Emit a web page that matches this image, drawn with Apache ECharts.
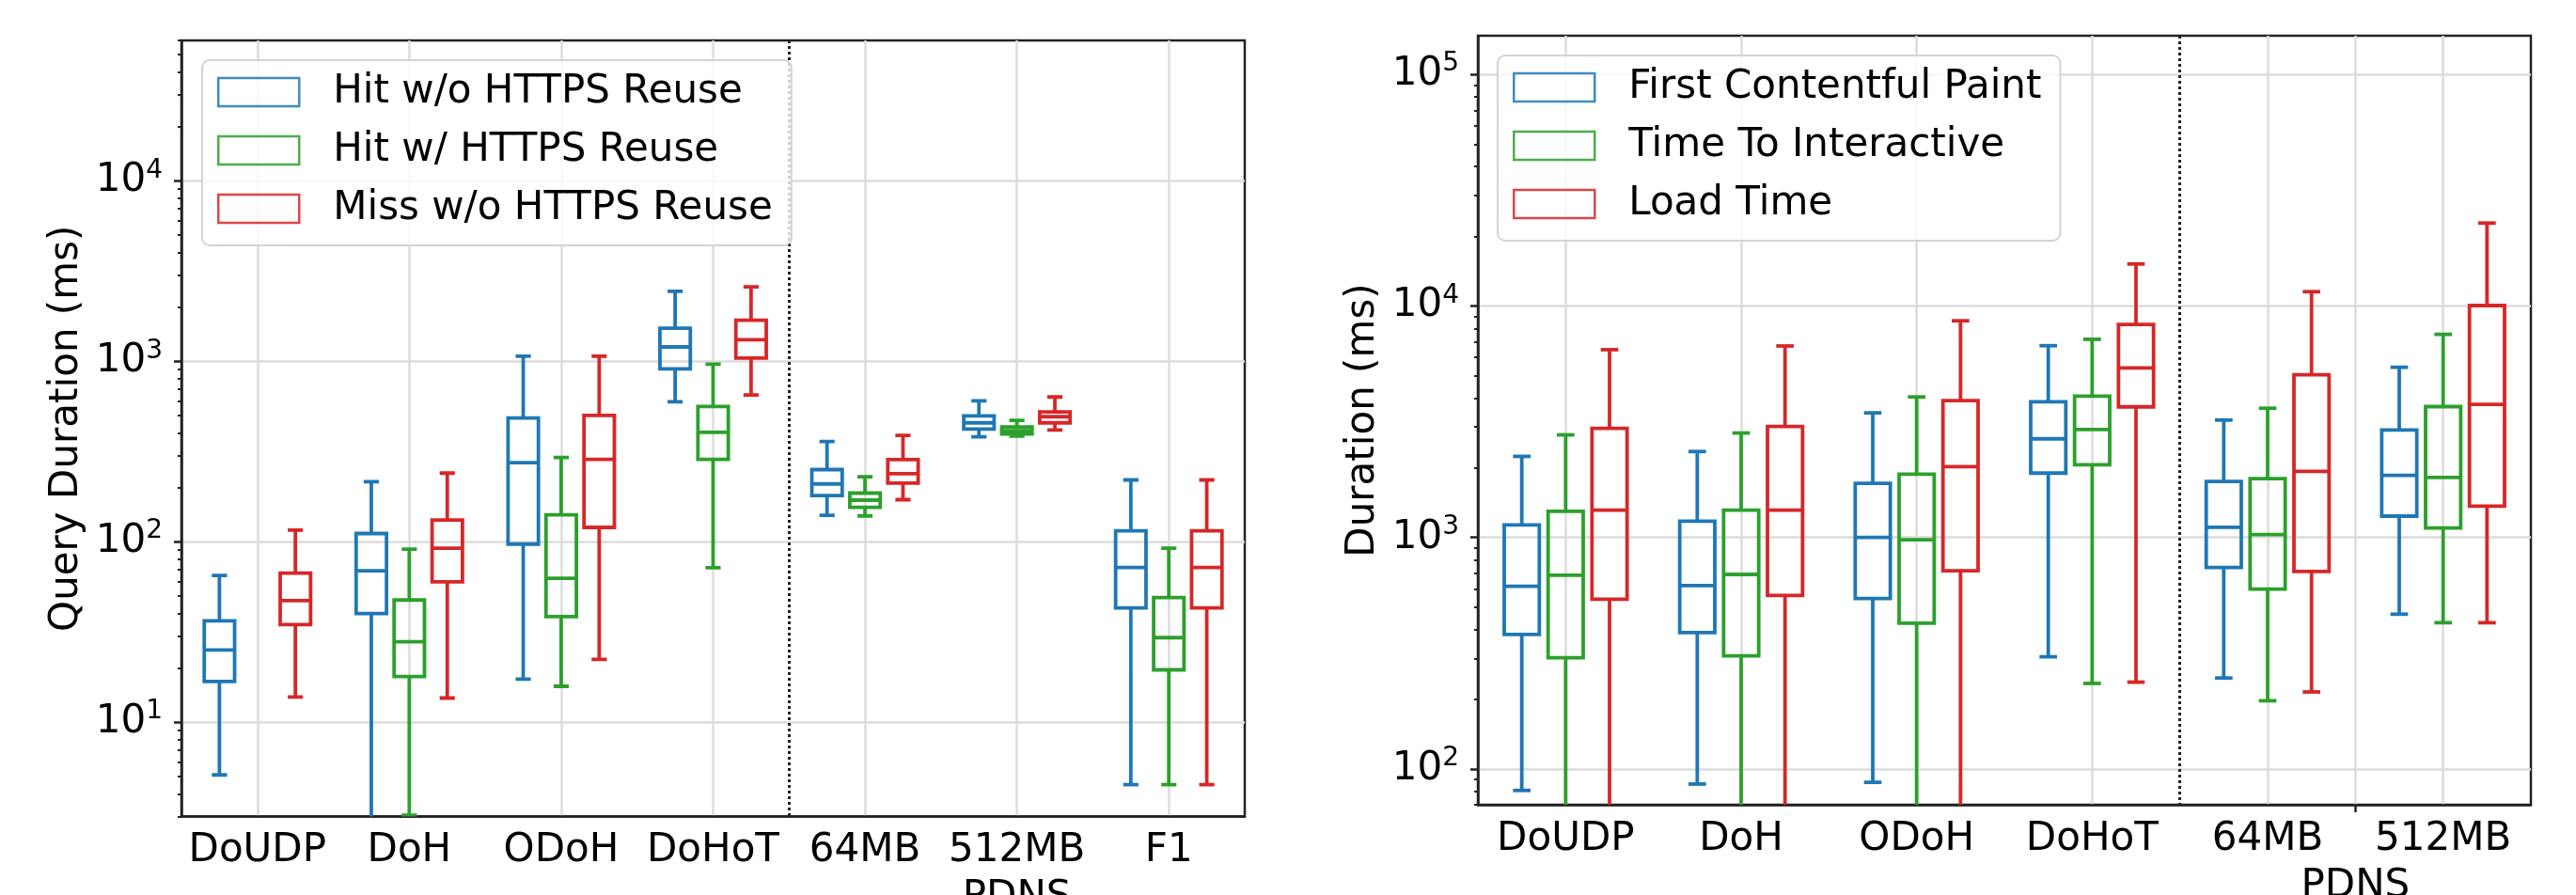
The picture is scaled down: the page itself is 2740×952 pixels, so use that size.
<!DOCTYPE html>
<html>
<head>
<meta charset="utf-8">
<script src="https://cdn.jsdelivr.net/npm/echarts@6/dist/echarts.min.js"></script>
<style>
  html, body { margin: 0; padding: 0; background: #fff; }
  #chart { width: 2740px; height: 952px; }
</style>
</head>
<body>
<div id="chart"></div>
<script>
// each box: [min, q1, median, q3, max], null = no box
const leftCats = ['DoUDP', 'DoH', 'ODoH', 'DoHoT', '64MB', '512MB', 'F1']
const hitNoReuse = [
  [5.1, 16.8, 25.1, 36.4, 65],
  [2, 40, 69, 111, 215],
  [17.3, 97, 274, 485, 1066],
  [596, 908, 1201, 1524, 2443],
  [140, 180, 209, 251, 359],
  [381, 421, 456, 498, 603],
  [4.5, 43, 72, 115, 220]
]
const hitReuse = [
  null,
  [3.05, 17.9, 27.9, 47.5, 91],
  [15.8, 38.5, 62.7, 141, 293],
  [71.8, 286, 404, 561, 964],
  [139, 155, 170, 186, 229],
  [385, 396, 412, 433, 470],
  [4.5, 19.5, 29.4, 49, 92]
]
const missNoReuse = [
  [13.8, 34.7, 47.2, 67, 116],
  [13.6, 60, 92, 132, 240],
  [22.3, 120, 286, 501, 1066],
  [650, 1042, 1316, 1687, 2583],
  [171, 211, 238, 285, 388],
  [416, 456, 493, 524, 634],
  [4.5, 43, 72, 115, 220]
]

const rightCats = ['DoUDP', 'DoH', 'ODoH', 'DoHoT', '64MB', '512MB']
const fcp = [
  [80.7, 381, 615, 1133, 2239],
  [86, 388, 619, 1175, 2350],
  [87.5, 545, 1000, 1711, 3452],
  [305, 1896, 2667, 3855, 6733],
  [247, 741, 1106, 1746, 3213],
  [466, 1236, 1853, 2910, 5433]
]
const tti = [
  [40, 302, 687, 1297, 2773],
  [40, 308, 692, 1312, 2825],
  [40, 426, 977, 1875, 4045],
  [234, 2060, 2925, 4077, 7174],
  [197, 598, 1028, 1795, 3614],
  [428, 1099, 1816, 3673, 7538]
]
const loadTime = [
  [40, 541, 1312, 2959, 6470],
  [40, 561, 1312, 3013, 6714],
  [40, 718, 2023, 3900, 8627],
  [237, 3665, 5396, 8310, 15180],
  [215, 713, 1928, 5045, 11520],
  [428, 1365, 3758, 10040, 22800]
]

const leftMajor = [10, 100, 1000, 10000]
const rightMajor = [100, 1000, 10000, 100000]

const colors = ['#1f77b4', '#2ca02c', '#d62728']
const font = 'DejaVu Sans'
const ink = '#222'
const gridLine = {color: '#dcdcdc', width: 2.5}

function minorTicks(lo, hi) {
    let out = []
    for (let d = 1; d <= 100000; d *= 10) {
        for (let k = 2; k <= 9; k++) {
            let v = k * d
            if (v >= lo && v <= hi) out.push(v)
        }
    }
    return out
}

function toData(rows) {
    let out = []
    rows.forEach((r, i) => { if (r) out.push([i].concat(r)) })
    return out
}

function boxRender(offset, color) {
    return function (params, api) {
        let i = api.value(0)
        let band = api.size([1, 0])[0]
        let pt = k => api.coord([i, api.value(k)])
        let cx = pt(3)[0] + offset * band
        let yMin = pt(1)[1], yQ1 = pt(2)[1], yMed = pt(3)[1], yQ3 = pt(4)[1], yMax = pt(5)[1]
        let hw = band * 0.1, cw = band * 0.05
        let style = {fill: 'none', stroke: color, lineWidth: 3.8}
        let line = (x1, y1, x2, y2) => ({type: 'line', shape: {x1, y1, x2, y2}, style})
        return {
            type: 'group',
            children: [
                {type: 'rect', shape: {x: cx - hw, y: yQ3, width: 2 * hw, height: yQ1 - yQ3}, style},
                line(cx - hw, yMed, cx + hw, yMed),
                line(cx, yQ3, cx, yMax),
                line(cx, yQ1, cx, yMin),
                line(cx - cw, yMax, cx + cw, yMax),
                line(cx - cw, yMin, cx + cw, yMin)
            ]
        }
    }
}

function boxSeries(name, rows, idx, xAxisIndex, yAxisIndex) {
    return {
        type: 'custom',
        name: name,
        xAxisIndex: xAxisIndex,
        yAxisIndex: yAxisIndex,
        clip: true,
        itemStyle: {color: colors[idx]},
        encode: {x: 0, y: [1, 2, 3, 4, 5]},
        renderItem: boxRender((idx - 1) * 0.25, colors[idx]),
        data: toData(rows)
    }
}

function powLabel(v) {
    return '{b|10}{e|' + Math.round(Math.log10(v)) + '}'
}

function catAxis(gridIndex, cats) {
    return {
        type: 'category', gridIndex: gridIndex, data: cats, position: 'bottom',
        axisLine: {lineStyle: {color: ink, width: 2.5}},
        axisTick: {alignWithLabel: true, interval: 0, length: 8, lineStyle: {color: ink, width: 2.5}},
        axisLabel: {interval: 0, fontSize: 42, color: '#000', margin: 16, fontFamily: font},
        splitLine: {show: true, interval: 0, alignWithLabel: true, lineStyle: gridLine}
    }
}

function logAxis(gridIndex, min, max, major, title) {
    return {
        type: 'log', gridIndex: gridIndex, min: min, max: max, position: 'left',
        name: title, nameLocation: 'middle', nameGap: 101,
        nameTextStyle: {fontSize: 42, color: '#000', fontFamily: font},
        axisLine: {lineStyle: {color: ink, width: 2.5}},
        axisTick: {customValues: major, length: 8, lineStyle: {color: ink, width: 2.5}},
        axisLabel: {
            customValues: major, formatter: powLabel, margin: 20, color: '#000',
            rich: {
                b: {fontSize: 42, fontFamily: font, color: '#000'},
                e: {fontSize: 28, fontFamily: font, color: '#000', padding: [0, 0, 22, 0]}
            }
        },
        splitLine: {show: true, lineStyle: gridLine}
    }
}

function minorAxis(gridIndex, min, max) {
    return {
        type: 'log', gridIndex: gridIndex, min: min, max: max, position: 'left',
        axisLine: {show: false},
        axisTick: {customValues: minorTicks(min, max), length: 4, lineStyle: {color: ink, width: 2}},
        axisLabel: {show: false},
        splitLine: {show: false}
    }
}

function legendFor(left, top, names) {
    return {
        left: left, top: top, orient: 'vertical',
        itemWidth: 86, itemHeight: 30, itemGap: 20,
        padding: [13, 20, 18, 16],
        backgroundColor: 'rgba(255,255,255,0.8)',
        borderColor: '#d4d4d4', borderWidth: 2, borderRadius: 8,
        textStyle: {fontSize: 42, lineHeight: 42, color: '#000', fontFamily: font, padding: [0, 0, 0, 31]},
        data: names.map((n, i) => ({
            name: n, icon: 'rect',
            itemStyle: {color: 'rgba(255,255,255,0)', borderColor: colors[i], borderWidth: 2.5, opacity: 0.85}
        }))
    }
}

const leftNames = ['Hit w/o HTTPS Reuse', 'Hit w/ HTTPS Reuse', 'Miss w/o HTTPS Reuse']
const rightNames = ['First Contentful Paint', 'Time To Interactive', 'Load Time']

let chart = echarts.init(document.getElementById('chart'))

let options = {
    animation: false,
    backgroundColor: '#fff',
    textStyle: {fontFamily: font},
    grid: [
        {left: 193, right: 2740 - 1324, top: 43, bottom: 952 - 868.5, outerBoundsMode: 'none',
         show: true, borderColor: ink, borderWidth: 2.5},
        {left: 1572, right: 2740 - 2692, top: 38, bottom: 952 - 856, outerBoundsMode: 'none',
         show: true, borderColor: ink, borderWidth: 2.5}
    ],
    legend: [legendFor(215, 64, leftNames), legendFor(1593, 59, rightNames)],
    xAxis: [
        catAxis(0, leftCats),
        {
            // PDNS group label + dotted separator, left panel
            type: 'value', gridIndex: 0, min: 0, max: 7, position: 'bottom',
            axisLine: {show: false},
            axisTick: {show: false, customValues: [4]},
            axisLabel: {customValues: [5.5], formatter: () => 'PDNS', margin: 66, fontSize: 42, color: '#000', fontFamily: font},
            splitLine: {show: true, lineStyle: {color: ink, width: 3, type: [3, 3]}}
        },
        catAxis(1, rightCats),
        {
            type: 'value', gridIndex: 1, min: 0, max: 6, position: 'bottom',
            axisLine: {show: false},
            axisTick: {show: true, customValues: [5], length: 8, lineStyle: {color: ink, width: 2.5}},
            axisLabel: {customValues: [5], formatter: () => 'PDNS', margin: 66, fontSize: 42, color: '#000', fontFamily: font},
            splitLine: {show: true, lineStyle: gridLine}
        },
        {
            type: 'value', gridIndex: 1, min: 0, max: 6, position: 'bottom',
            axisLine: {show: false},
            axisTick: {show: false, customValues: [4]},
            axisLabel: {show: false},
            splitLine: {show: true, lineStyle: {color: ink, width: 3, type: [3, 3]}}
        }
    ],
    yAxis: [
        logAxis(0, 3, 60000, leftMajor, 'Query Duration (ms)'),
        minorAxis(0, 3, 60000),
        logAxis(1, 70, 147000, rightMajor, 'Duration (ms)'),
        minorAxis(1, 70, 147000)
    ],
    series: [
        boxSeries(leftNames[0], hitNoReuse, 0, 0, 0),
        boxSeries(leftNames[1], hitReuse, 1, 0, 0),
        boxSeries(leftNames[2], missNoReuse, 2, 0, 0),
        boxSeries(rightNames[0], fcp, 0, 2, 2),
        boxSeries(rightNames[1], tti, 1, 2, 2),
        boxSeries(rightNames[2], loadTime, 2, 2, 2)
    ]
}

chart.setOption(options)
</script>
</body>
</html>
